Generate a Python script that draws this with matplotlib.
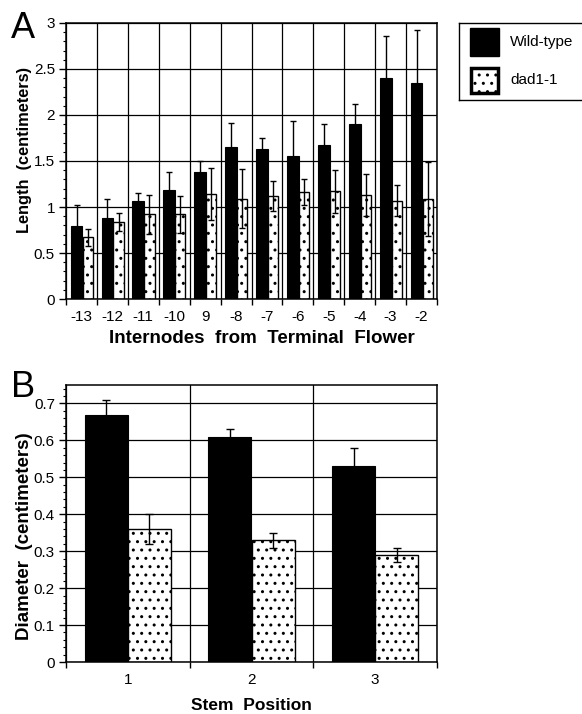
import matplotlib
matplotlib.use("Agg")
import matplotlib.pyplot as plt
import numpy as np
from matplotlib.patches import Rectangle
from matplotlib.ticker import FixedLocator, MultipleLocator, FuncFormatter, NullFormatter

plt.rcParams['font.family'] = ['Liberation Sans', 'DejaVu Sans']
plt.rcParams['hatch.linewidth'] = 1.0

# ---- Data: panel A (internode length) ----
internodes = ['-13', '-12', '-11', '-10', '9', '-8', '-7', '-6', '-5', '-4', '-3', '-2']
wt_length = [0.79, 0.88, 1.06, 1.19, 1.38, 1.65, 1.63, 1.55, 1.67, 1.90, 2.40, 2.35]
wt_length_err = [0.23, 0.21, 0.09, 0.19, 0.12, 0.26, 0.12, 0.39, 0.23, 0.22, 0.46, 0.57]
dad_length = [0.67, 0.84, 0.92, 0.92, 1.14, 1.09, 1.12, 1.16, 1.17, 1.13, 1.07, 1.09]
dad_length_err = [0.09, 0.10, 0.21, 0.20, 0.28, 0.32, 0.16, 0.14, 0.23, 0.23, 0.17, 0.40]

# ---- Data: panel B (stem diameter) ----
positions = ['1', '2', '3']
wt_diam = [0.67, 0.61, 0.53]
wt_diam_err = [0.04, 0.02, 0.05]
dad_diam = [0.36, 0.33, 0.29]
dad_diam_err = [0.04, 0.02, 0.02]

series_names = ['Wild-type', 'dad1-1']

W, H = 582, 714
fig = plt.figure(figsize=(W / 100, H / 100), dpi=100)


def fx(px):
    return px / W


def fy(py):
    return 1 - py / H


def style_axes(ax, n, ylim, major, minor, fmt_labels):
    ax.set_xlim(-0.5, n - 0.5)
    ax.set_ylim(*ylim)
    ax.set_axisbelow(True)
    ax.xaxis.set_major_locator(FixedLocator(np.arange(-0.5, n, 1.0)))
    ax.xaxis.set_major_formatter(NullFormatter())
    ax.xaxis.set_minor_locator(FixedLocator(np.arange(n)))
    ax.xaxis.set_minor_formatter(FuncFormatter(lambda v, p: fmt_labels[int(round(v))] if 0 <= int(round(v)) < n else ''))
    ax.tick_params(axis='x', which='major', direction='out', length=4, width=1, color='black')
    ax.tick_params(axis='x', which='minor', length=0, pad=8, labelsize=11)
    ax.yaxis.set_major_locator(MultipleLocator(major))
    ax.yaxis.set_minor_locator(MultipleLocator(minor))
    ax.yaxis.set_major_formatter(FuncFormatter(lambda v, p: '%g' % round(v, 3)))
    ax.tick_params(axis='y', which='major', direction='out', length=5, width=1, pad=3, labelsize=11)
    ax.tick_params(axis='y', which='minor', direction='out', length=2.5, width=0.8)
    ax.grid(True, which='major', color='black', linewidth=0.9)
    for s in ax.spines.values():
        s.set_color('black')
        s.set_linewidth(1.1)


# ---- Panel A ----
axA = fig.add_axes([fx(66), fy(299), fx(437) - fx(66), fy(23) - fy(299)])
xA = np.arange(len(internodes))
axA.bar(xA - 0.16, wt_length, width=0.38, color='black', edgecolor='black', linewidth=0.8, zorder=2)
axA.bar(xA + 0.20, dad_length, width=0.33, facecolor='white', edgecolor='black', hatch='..', linewidth=1.0, zorder=2)
axA.errorbar(xA - 0.16, wt_length, yerr=wt_length_err, fmt='none', ecolor='black', elinewidth=1, capsize=2, capthick=1, zorder=3)
axA.errorbar(xA + 0.20, dad_length, yerr=dad_length_err, fmt='none', ecolor='black', elinewidth=1, capsize=2, capthick=1, zorder=3)
style_axes(axA, len(internodes), (0, 3), 0.5, 0.1, internodes)
axA.set_xlabel('Internodes  from  Terminal  Flower', fontsize=13.5, fontweight='bold')
axA.xaxis.set_label_coords(0.527, -0.112)
axA.xaxis.label.set_va('top')
axA.set_ylabel('Length  (centimeters)', fontsize=11.8, fontweight='bold')
axA.yaxis.set_label_coords(-0.092, 0.54)

# ---- Panel B ----
axB = fig.add_axes([fx(66), fy(662), fx(437) - fx(66), fy(385) - fy(662)])
xB = np.arange(len(positions))
axB.bar(xB - 0.175, wt_diam, width=0.35, color='black', edgecolor='black', linewidth=0.8, zorder=2)
axB.bar(xB + 0.175, dad_diam, width=0.35, facecolor='white', edgecolor='black', hatch='..', linewidth=1.0, zorder=2)
axB.errorbar(xB - 0.175, wt_diam, yerr=wt_diam_err, fmt='none', ecolor='black', elinewidth=1, capsize=3, capthick=1, zorder=3)
axB.errorbar(xB + 0.175, dad_diam, yerr=dad_diam_err, fmt='none', ecolor='black', elinewidth=1, capsize=3, capthick=1, zorder=3)
style_axes(axB, len(positions), (0, 0.75), 0.1, 0.02, positions)
axB.set_xlabel('Stem  Position', fontsize=12.5, fontweight='bold')
axB.xaxis.set_label_coords(0.5, -0.13)
axB.xaxis.label.set_va('top')
axB.set_ylabel('Diameter  (centimeters)', fontsize=13.5, fontweight='bold')
axB.yaxis.set_label_coords(-0.09, 0.455)

# ---- Panel letters ----
fig.text(fx(11), fy(38), 'A', fontsize=26, va='baseline', ha='left')
fig.text(fx(11), fy(397), 'B', fontsize=26, va='baseline', ha='left')

# ---- Legend box ----
axL = fig.add_axes([fx(459), fy(100), fx(600) - fx(459), fy(23) - fy(100)])
axL.set_xlim(459, 600)
axL.set_ylim(100, 23)
axL.set_xticks([])
axL.set_yticks([])
for s in axL.spines.values():
    s.set_linewidth(1.0)
    s.set_color('black')
axL.add_patch(Rectangle((470, 28), 29, 28, facecolor='black', edgecolor='black'))
axL.add_patch(Rectangle((471, 68), 27, 25, facecolor='white', edgecolor='black', hatch='..', linewidth=2.5))
axL.text(510, 42, series_names[0], fontsize=11, va='center', ha='left')
axL.text(510, 80, series_names[1], fontsize=11, va='center', ha='left')

fig.savefig('out.png', dpi=100)
